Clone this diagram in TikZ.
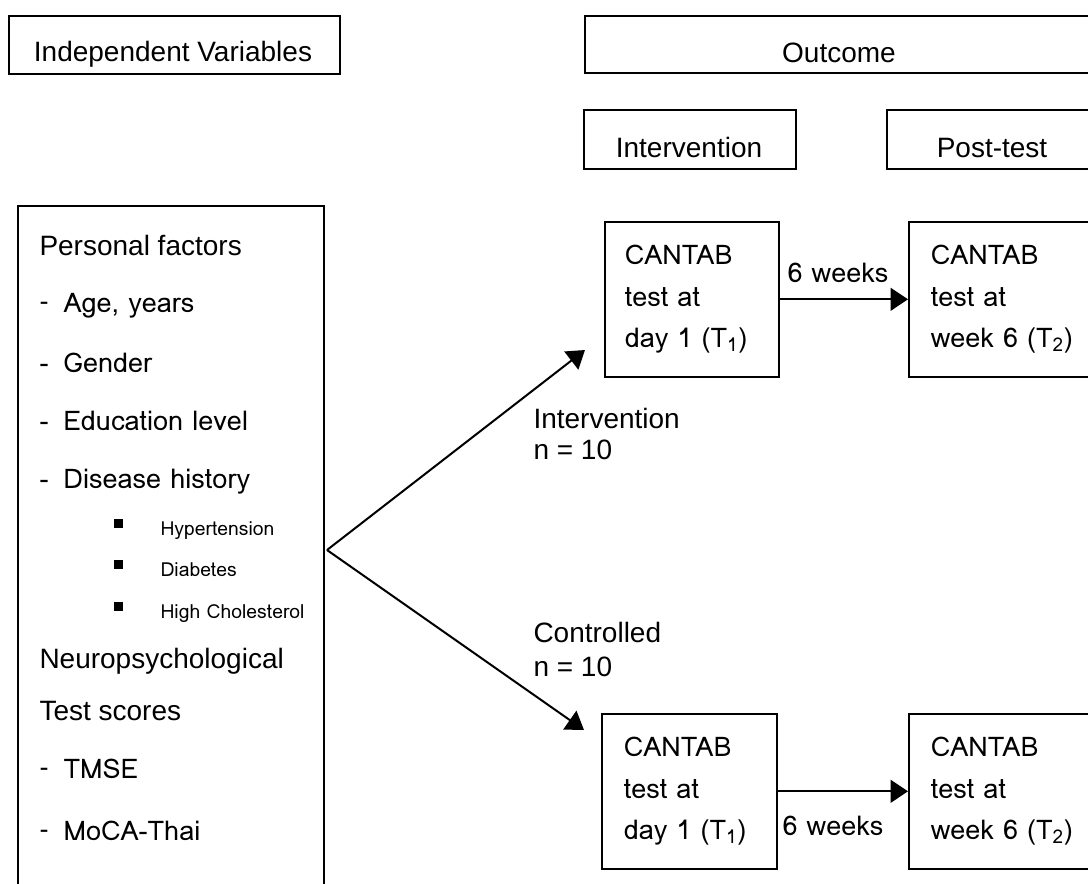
\documentclass[tikz,border=0pt]{standalone}
\usepackage{fontspec}
\setmainfont{Liberation Sans}
\newfontfamily\thinfont{Loma}
\usetikzlibrary{arrows.meta}

\tikzset{every picture/.style={line width=0.75pt}}

\begin{document}
\begin{tikzpicture}[x=0.75pt,y=0.75pt,yscale=-1,xscale=1,
  head/.style={font=\fontsize{21}{24}\selectfont, inner sep=0pt},
  thin/.style={font=\thinfont\fontsize{20.3}{24}\selectfont, inner sep=0pt},
  small/.style={font=\thinfont\fontsize{14.5}{17}\selectfont, inner sep=0pt},
  box/.style={draw, line width=1.2pt, inner sep=0pt, anchor=north west},
  testbox/.style={box, font=\thinfont\fontsize{20.3}{31}\selectfont, align=left, minimum height=116.25pt},
  arr/.style={line width=1.5pt, -{Triangle[length=13pt,width=17pt]}}]
\useasboundingbox (0,0) rectangle (1088,883);
\clip (0,0) rectangle (1088,883);

%Shape: Rectangle (headings)
\node [box, minimum width=248.25pt, minimum height=43.5pt] (indepbox) at (8,15) {};
\node [box, minimum width=387pt, minimum height=42.75pt] (outbox) at (584,15) {};
\node [box, minimum width=159pt, minimum height=44.25pt] (intbox) at (583,109) {};
\node [box, minimum width=160.5pt, minimum height=44.25pt] (postbox) at (886,109) {};
%Shape: Rectangle (factors)
\node [box, minimum width=229.5pt, minimum height=521.25pt] (factbox) at (17,205) {};

% Text Node
\node [head, anchor=base] (indeptxt) at (173,61) {Independent Variables};
\node [head, anchor=base] (outtxt) at (839,62) {Outcome};
\node [head, anchor=base] (inttxt) at (689,157) {Intervention};
\node [head, anchor=base] (posttxt) at (992,157) {Post-test};

% Text Node
\node [head, anchor=base west] (personal) at (39,255) {Personal factors};
\node [thin, anchor=base west] (age) at (39,312) {\makebox[18pt][l]{\rmfamily\raisebox{1pt}{-}}Age, years};
\node [thin, anchor=base west] (gender) at (39,372) {\makebox[18pt][l]{-}Gender};
\node [thin, anchor=base west] (edu) at (39,430) {\makebox[18pt][l]{-}Education level};
\node [thin, anchor=base west] (disease) at (39,488) {\makebox[18pt][l]{-}Disease history};
\node [small, anchor=base west] (hyper) at (113,535) {\makebox[35.25pt][l]{\rule[4.9pt]{7pt}{7pt}}Hypertension};
\node [small, anchor=base west] (diab) at (113,576) {\makebox[35.25pt][l]{\rule[4.9pt]{7pt}{7pt}}Diabetes};
\node [small, anchor=base west] (chol) at (113,618) {\makebox[35.25pt][l]{\rule[4.9pt]{7pt}{7pt}}High Cholesterol};
\node [head, anchor=base west] (neuro) at (39,668) {Neuropsychological};
\node [head, anchor=base west] (scores) at (39,720) {Test scores};
\node [thin, anchor=base west] (tmse) at (39,778) {\makebox[18pt][l]{\rmfamily\raisebox{1pt}{-}}TMSE};
\node [thin, anchor=base west] (moca) at (39,840) {\makebox[18pt][l]{\rmfamily\raisebox{1pt}{-}}MoCA-Thai};

%Shape: Rectangle (CANTAB tests)
\node [testbox, minimum width=130.5pt, inner xsep=15pt, text width=100.5pt] (testIa) at (604,221) {CANTAB\\test at\\day 1 (T\textsubscript{1})};
\node [testbox, minimum width=150pt, inner xsep=16.5pt, text width=117pt] (testIb) at (908,221) {CANTAB\\test at\\week 6 (T\textsubscript{2})};
\node [testbox, minimum width=131.25pt, inner xsep=16.5pt, text width=98.25pt] (testCa) at (601,713) {CANTAB\\test at\\day 1 (T\textsubscript{1})};
\node [testbox, minimum width=150pt, inner xsep=16.5pt, text width=117pt] (testCb) at (908,713) {CANTAB\\test at\\week 6 (T\textsubscript{2})};

% Group labels
\node [head, anchor=base west] (grpI) at (533,428) {Intervention};
\node [head, anchor=base west] (nI) at (533,459) {n = 10};
\node [head, anchor=base west] (grpC) at (533,642) {Controlled};
\node [head, anchor=base west] (nC) at (533,676) {n = 10};

%Straight Lines
\coordinate (fork) at (327,550);
\coordinate (tipI) at (585,350);
\coordinate (tipC) at (584,730);
\draw [arr] (fork) -- (tipI);
\draw [arr] (fork) -- (tipC);
\draw [arr] (testIa.east) -- (testIb.west);
\draw [arr] (testCa.east) -- (testCb.west);

% Text Node
\node [thin, anchor=base] (wkI) at (838,282) {6 weeks};
\node [thin, anchor=base] (wkC) at (833,835) {6 weeks};

\end{tikzpicture}
\end{document}
